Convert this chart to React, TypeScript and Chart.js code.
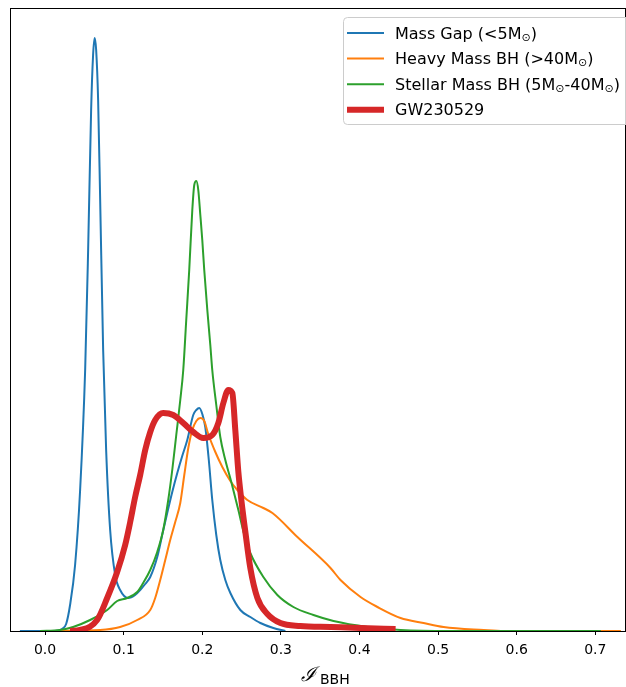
import React, { useEffect, useRef } from "react";
import { Chart, registerables } from "chart.js";

Chart.register(...registerables);

// ---- axis ----
const xTicks = [0, 0.1, 0.2, 0.3, 0.4, 0.5, 0.6, 0.7];
const xMin = -0.0446;
const xMax = 0.739;
const yMax = 62.3;

// ---- series: Mass Gap (<5 Msun) ----
const gapX = [-0.032, 0.0127, 0.0217, 0.0268, 0.0318, 0.0382, 0.0446, 0.051, 0.0548, 0.0586, 0.0611, 0.0631, 0.065, 0.0675, 0.0701, 0.0739, 0.0777, 0.0828, 0.0892, 0.0955, 0.1057, 0.1146, 0.121, 0.1274, 0.1338, 0.1427, 0.149, 0.1554, 0.1618, 0.1682, 0.1745, 0.1809, 0.1885, 0.1924, 0.1962, 0.2, 0.2038, 0.2083, 0.2127, 0.2178, 0.2229, 0.2293, 0.2357, 0.2484, 0.2611, 0.2739, 0.2904, 0.3057];
const gapY = [0, 0, 0.2, 0.7, 2.6, 6.6, 14.1, 26.1, 38.1, 52.1, 57.6, 59.3, 58.1, 53.1, 43.1, 28.1, 18.1, 10.1, 5.6, 4.1, 3.3, 3.6, 4.1, 4.7, 5.4, 7.4, 9.6, 11.8, 13.9, 15.8, 17.5, 19.1, 21.6, 22.1, 22.3, 21.7, 20.4, 17.1, 13.1, 9.6, 7.1, 5.1, 3.8, 2.1, 1.4, 0.8, 0.3, 0];

// ---- series: Heavy Mass BH (>40 Msun) ----
const heavyX = [0.0127, 0.0701, 0.0955, 0.1172, 0.1338, 0.1401, 0.1465, 0.1529, 0.1592, 0.1656, 0.172, 0.1771, 0.1822, 0.1873, 0.1924, 0.1975, 0.2025, 0.2076, 0.2166, 0.2255, 0.2357, 0.2446, 0.2573, 0.2777, 0.2892, 0.321, 0.3631, 0.3758, 0.4013, 0.4229, 0.4522, 0.4815, 0.507, 0.558, 0.5834, 0.7325];
const heavyY = [0, 0.1, 0.4, 1.1, 2.1, 3.3, 5.1, 7.1, 9.1, 10.9, 12.8, 15.6, 18.3, 20.1, 21.0, 21.3, 21.0, 19.7, 17.9, 16.4, 15.0, 14.1, 13.1, 12.3, 11.8, 9.4, 6.3, 5.1, 3.4, 2.4, 1.3, 0.8, 0.4, 0.1, 0, 0];

// ---- series: Stellar Mass BH (5-40 Msun) ----
const stellarX = [-0.0064, 0.0191, 0.0357, 0.0573, 0.079, 0.0917, 0.1045, 0.1172, 0.1248, 0.1338, 0.1427, 0.1503, 0.1567, 0.1618, 0.1669, 0.172, 0.1758, 0.1796, 0.1834, 0.1873, 0.1898, 0.1924, 0.1949, 0.1975, 0.2, 0.2025, 0.2064, 0.2102, 0.2127, 0.2178, 0.2229, 0.2293, 0.2369, 0.2459, 0.2535, 0.2611, 0.2777, 0.2955, 0.3159, 0.3414, 0.3669, 0.4102, 0.4522, 0.5159, 0.707];
const stellarY = [0, 0.1, 0.4, 1.1, 2.1, 3.0, 3.3, 3.9, 4.8, 6.1, 7.9, 10.1, 13.1, 16.1, 19.6, 23.1, 26.1, 31.1, 36.1, 42.1, 44.6, 45.0, 44.1, 41.6, 39.1, 36.1, 32.1, 28.6, 26.1, 22.6, 19.4, 17.1, 14.9, 12.1, 9.6, 7.8, 5.4, 3.6, 2.4, 1.6, 1.0, 0.4, 0.1, 0, 0];

// ---- series: GW230529 ----
const gwX = [0.0318, 0.0446, 0.0662, 0.079, 0.0917, 0.1019, 0.1083, 0.1146, 0.121, 0.1274, 0.1338, 0.1401, 0.1503, 0.1631, 0.1758, 0.1885, 0.2013, 0.2127, 0.2204, 0.2268, 0.2331, 0.2382, 0.242, 0.2459, 0.2497, 0.2548, 0.2611, 0.2701, 0.2828, 0.2994, 0.3248, 0.3631, 0.4013, 0.4459];
const gwY = [0, 0.1, 1.1, 3.3, 5.9, 8.6, 10.9, 13.4, 15.6, 18.1, 19.9, 21.1, 21.8, 21.6, 20.8, 19.9, 19.3, 19.6, 20.8, 22.8, 24.1, 23.8, 20.1, 15.9, 13.1, 9.9, 6.3, 3.3, 1.7, 0.8, 0.5, 0.4, 0.3, 0.2];

const seriesLabels = ["Mass Gap (<5M⊙)", "Heavy Mass BH (>40M⊙)", "Stellar Mass BH (5M⊙-40M⊙)", "GW230529"];
const seriesX = [gapX, heavyX, stellarX, gwX];
const seriesY = [gapY, heavyY, stellarY, gwY];
const seriesColors = ["#1f77b4", "#ff7f0e", "#2ca02c", "#d62728"];
const seriesWidths = [2, 2, 2, 6];

const FONT = "'DejaVu Sans', sans-serif";

const framePlugin = {
  id: "frame",
  afterDraw(chart: any) {
    const { ctx, chartArea: a } = chart;
    ctx.save();
    ctx.strokeStyle = "#000";
    ctx.lineWidth = 1;
    ctx.strokeRect(Math.round(a.left) + 0.5, Math.round(a.top) + 0.5, Math.round(a.right - a.left) - 1, Math.round(a.bottom - a.top));
    ctx.restore();
  },
};

const titlePlugin = {
  id: "xtitle",
  afterDraw(chart: any) {
    const { ctx } = chart;
    ctx.save();
    ctx.fillStyle = "#000";
    ctx.textBaseline = "alphabetic";
    ctx.textAlign = "left";
    ctx.font = "italic 20px 'DejaVu Serif', serif";
    ctx.fillText("ℐ", 301, 681);
    ctx.font = `14px ${FONT}`;
    ctx.fillText("BBH", 320, 684);
    ctx.restore();
  },
};

function drawLabel(ctx: CanvasRenderingContext2D, text: string, x: number, y: number) {
  let cx = x;
  for (const ch of text) {
    if (ch === "⊙") {
      ctx.font = `11px ${FONT}`;
      ctx.fillText(ch, cx, y + 2);
      cx += ctx.measureText(ch).width;
    } else {
      ctx.font = `16px ${FONT}`;
      ctx.fillText(ch, cx, y);
      cx += ctx.measureText(ch).width;
    }
  }
}

const legendPlugin = {
  id: "customLegend",
  afterDraw(chart: any) {
    const { ctx } = chart;
    ctx.save();
    const bx = 343.5, by = 17.5, bw = 290, bh = 107, r = 4;
    ctx.beginPath();
    ctx.moveTo(bx + r, by);
    ctx.lineTo(bx + bw - r, by);
    ctx.arcTo(bx + bw, by, bx + bw, by + r, r);
    ctx.lineTo(bx + bw, by + bh - r);
    ctx.arcTo(bx + bw, by + bh, bx + bw - r, by + bh, r);
    ctx.lineTo(bx + r, by + bh);
    ctx.arcTo(bx, by + bh, bx, by + bh - r, r);
    ctx.lineTo(bx, by + r);
    ctx.arcTo(bx, by, bx + r, by, r);
    ctx.closePath();
    ctx.fillStyle = "rgba(255,255,255,0.8)";
    ctx.fill();
    ctx.strokeStyle = "#cccccc";
    ctx.lineWidth = 1;
    ctx.stroke();
    ctx.fillStyle = "#000";
    ctx.textBaseline = "alphabetic";
    ctx.textAlign = "left";
    seriesLabels.forEach((label, i) => {
      const cy = 33 + i * 25.6;
      ctx.beginPath();
      ctx.strokeStyle = seriesColors[i];
      ctx.lineWidth = seriesWidths[i];
      ctx.lineCap = "butt";
      ctx.moveTo(347, cy);
      ctx.lineTo(384, cy);
      ctx.stroke();
      drawLabel(ctx, label, 395, cy + 5.5);
    });
    ctx.restore();
  },
};

export default function App() {
  const ref = useRef<HTMLCanvasElement>(null);
  useEffect(() => {
    const order = [3, 2, 1, 0];
    const datasets = seriesLabels.map((label, i) => ({
      label,
      data: seriesX[i].map((x, j) => ({ x, y: seriesY[i][j] })),
      borderColor: seriesColors[i],
      borderWidth: seriesWidths[i],
      pointRadius: 0,
      fill: false,
      cubicInterpolationMode: "monotone" as const,
      order: order[i],
    }));
    const chart = new Chart(ref.current!, {
      type: "line",
      data: { datasets },
      options: {
        animation: false,
        responsive: false,
        devicePixelRatio: 1,
        layout: { padding: { left: 10, top: 8, right: 0, bottom: 21.2 } },
        plugins: { legend: { display: false }, tooltip: { enabled: false } },
        scales: {
          x: {
            type: "linear",
            min: xMin,
            max: xMax,
            afterBuildTicks: (scale: any) => {
              scale.ticks = xTicks.map((v) => ({ value: v }));
            },
            ticks: {
              color: "#000",
              font: { family: FONT, size: 14 },
              padding: 7,
              maxRotation: 0,
              callback: (v: any) => Number(v).toFixed(1),
            },
            grid: { display: true, drawOnChartArea: false, drawTicks: true, tickLength: 4, color: "#000", lineWidth: 1 },
            border: { display: false },
          },
          y: { display: false, min: 0, max: yMax },
        },
      },
      plugins: [framePlugin, titlePlugin, legendPlugin],
    });
    return () => chart.destroy();
  }, []);
  return (
    <div style={{ position: "absolute", left: 0, top: 0, width: 626, height: 687, background: "#fff" }}>
      <canvas ref={ref} width={626} height={687} />
    </div>
  );
}
